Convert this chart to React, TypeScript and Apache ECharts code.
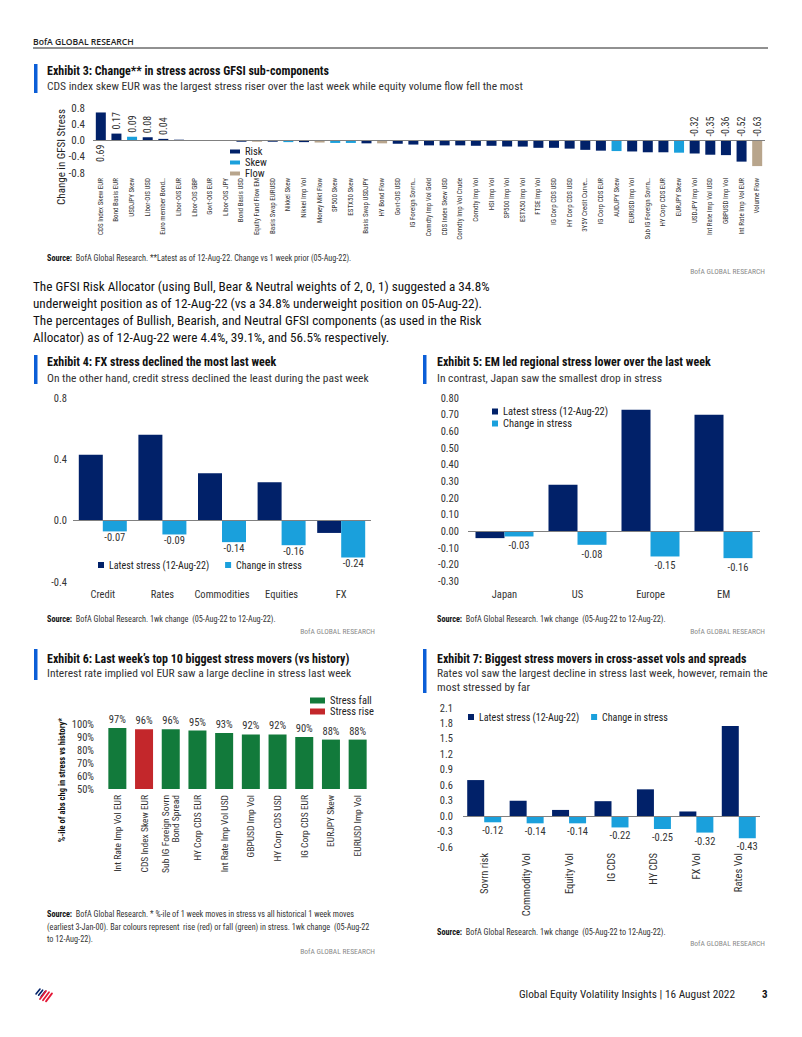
import React, { useEffect, useRef } from 'react';
import * as echarts from 'echarts';

const FONT = "'Liberation Sans Narrow', 'Arial Narrow', 'Roboto Condensed', Roboto, sans-serif";
const NAVY = '#012169';
const LIGHT = '#1aa0dc';
const TAN = '#b8a58c';
const GREEN = '#127a3b';
const RED = '#c3272b';
const ACCENT = '#0b5ed7';
const AXIS_TXT = '#333';

// ---------- Exhibit 3 ----------
const ex3Categories = [
  'CDS Index Skew EUR', 'Bond Basis EUR', 'USDJPY Skew', 'Libor-OIS USD', 'Euro member Bond…',
  'Libor-OIS EUR', 'Libor-OIS GBP', 'Govt-OIS EUR', 'Libor-OIS JPY', 'Bond Basis USD',
  'Equity Fund Flow EM', 'Basis Swap EURUSD', 'Nikkei Skew', 'Nikkei Imp Vol', 'Money Mkt Flow',
  'SP500 Skew', 'ESTX50 Skew', 'Basis Swap USDJPY', 'HY Bond Flow', 'Govt-OIS USD',
  'IG Foreign Sovrn…', 'Comdty Imp Vol Gold', 'CDS Index Skew USD', 'Comdty Imp Vol Crude', 'Comdty Imp Vol',
  'HSI Imp Vol', 'SP500 Imp Vol', 'ESTX50 Imp Vol', 'FTSE Imp Vol', 'IG Corp CDS USD',
  'HY Corp CDS USD', '3Y5Y Credit Curve…', 'IG Corp CDS EUR', 'AUDJPY Skew', 'EURUSD Imp Vol',
  'Sub IG Foreign Sovrn…', 'HY Corp CDS EUR', 'EURJPY Skew', 'USDJPY Imp Vol', 'Int Rate Imp Vol USD',
  'GBPUSD Imp Vol', 'Int Rate Imp Vol EUR', 'Volume Flow',
];
const ex3Values = [
  0.69, 0.17, 0.09, 0.08, 0.04,
  0.02, 0.01, 0.01, 0.01, -0.03,
  -0.03, -0.03, -0.04, -0.04, -0.05,
  -0.06, -0.06, -0.07, -0.07, -0.08,
  -0.10, -0.12, -0.12, -0.12, -0.13,
  -0.13, -0.15, -0.15, -0.18, -0.18,
  -0.20, -0.23, -0.25, -0.26, -0.27,
  -0.29, -0.29, -0.30, -0.32, -0.35,
  -0.36, -0.52, -0.63,
];
const ex3Groups = [
  'Risk', 'Risk', 'Skew', 'Risk', 'Risk',
  'Risk', 'Risk', 'Risk', 'Risk', 'Risk',
  'Flow', 'Risk', 'Skew', 'Risk', 'Flow',
  'Skew', 'Skew', 'Risk', 'Flow', 'Risk',
  'Risk', 'Risk', 'Risk', 'Risk', 'Risk',
  'Risk', 'Risk', 'Risk', 'Risk', 'Risk',
  'Risk', 'Risk', 'Risk', 'Skew', 'Risk',
  'Risk', 'Risk', 'Skew', 'Risk', 'Risk',
  'Risk', 'Risk', 'Flow',
];
const ex3GroupNames = ['Risk', 'Skew', 'Flow'];
const ex3LabelledEachEnd = 5;

// ---------- Exhibit 4 ----------
const ex4Categories = ['Credit', 'Rates', 'Commodities', 'Equities', 'FX'];
const ex4Latest = [0.43, 0.56, 0.31, 0.25, -0.08];
const ex4Change = [-0.07, -0.09, -0.14, -0.16, -0.24];

// ---------- Exhibit 5 ----------
const ex5Categories = ['Japan', 'US', 'Europe', 'EM'];
const ex5Latest = [-0.04, 0.28, 0.73, 0.70];
const ex5Change = [-0.03, -0.08, -0.15, -0.16];

// ---------- Exhibit 6 ----------
const ex6Categories = [
  'Int Rate Imp Vol EUR', 'CDS Index Skew EUR', 'Sub IG Foreign Sovrn\nBond Spread', 'HY Corp CDS EUR',
  'Int Rate Imp Vol USD', 'GBPUSD Imp Vol', 'HY Corp CDS USD', 'IG Corp CDS EUR', 'EURJPY Skew', 'EURUSD Imp Vol',
];
const ex6Values = [97, 96, 96, 95, 93, 92, 92, 90, 88, 88];
const ex6Direction = ['fall', 'rise', 'fall', 'fall', 'fall', 'fall', 'fall', 'fall', 'fall', 'fall'];

// ---------- Exhibit 7 ----------
const ex7Categories = ['Sovrn risk', 'Commodity Vol', 'Equity Vol', 'IG CDS', 'HY CDS', 'FX Vol', 'Rates Vol'];
const ex7Latest = [0.70, 0.30, 0.12, 0.29, 0.52, 0.09, 1.75];
const ex7Change = [-0.12, -0.14, -0.14, -0.22, -0.25, -0.32, -0.43];

const LATEST = 'Latest stress (12-Aug-22)';
const CHANGE = 'Change in stress';

const paragraph = [
  'The GFSI Risk Allocator (using Bull, Bear & Neutral weights of 2, 0, 1) suggested a 34.8%',
  'underweight position as of 12-Aug-22 (vs a 34.8% underweight position on 05-Aug-22).',
  'The percentages of Bullish, Bearish, and Neutral GFSI components (as used in the Risk',
  'Allocator) as of 12-Aug-22 were 4.4%, 39.1%, and 56.5% respectively.',
];

function txt(text: string, x: number, y: number, size: number, o: any = {}) {
  return {
    type: 'text', x, y, silent: true, rotation: o.rotation || 0, z: 100,
    style: {
      text, fontSize: size, fontFamily: o.family || FONT, fontWeight: o.weight || 'normal',
      fill: o.color || '#222', align: o.align || 'left', verticalAlign: 'middle', rich: o.rich,
    },
  };
}
function accent(x: number, y: number, h: number) {
  return { type: 'rect', silent: true, shape: { x, y, width: 3.5, height: h }, style: { fill: ACCENT } };
}
function src(rest: string, x: number, y: number) {
  return txt('{b|Source:}' + rest, x, y, 8.2, {
    color: '#333',
    rich: { b: { fontWeight: 'bold', fontSize: 8.2, fontFamily: FONT, fill: '#111' } },
  });
}
const bofa = (x: number, y: number) => txt('BofA GLOBAL RESEARCH', x, y, 7.5, { align: 'right', color: '#8a8a8a' });

const zeroLine = {
  silent: true, symbol: 'none', label: { show: false },
  lineStyle: { color: '#808080', width: 1, type: 'solid' },
  data: [{ yAxis: 0 }],
};

const fmt = (d: number) => (v: number) => Number(v).toFixed(d);

function catAxis(gi: number, data: string[], o: any = {}) {
  return {
    type: 'category', gridIndex: gi, data,
    axisLine: { show: false }, axisTick: { show: false },
    axisLabel: {
      interval: 0, rotate: o.rotate || 0, fontSize: o.size || 10.5, color: AXIS_TXT,
      fontFamily: FONT, margin: o.margin ?? 7,
    },
  };
}
function valAxis(gi: number, min: number, max: number, interval: number, formatter: any, o: any = {}) {
  return {
    type: 'value', gridIndex: gi, min, max, interval,
    splitLine: { show: false }, axisLine: { show: false }, axisTick: { show: false },
    axisLabel: { formatter, fontSize: o.size || 10.5, color: AXIS_TXT, fontFamily: FONT, margin: o.margin ?? 8 },
  };
}
function pair(ai: number, latest: number[], change: number[], width: number, dist: number) {
  return [
    {
      name: LATEST, type: 'bar', xAxisIndex: ai, yAxisIndex: ai, data: latest, barWidth: width, barGap: '0%',
      itemStyle: { color: NAVY }, markLine: zeroLine,
    },
    {
      name: CHANGE, type: 'bar', xAxisIndex: ai, yAxisIndex: ai, data: change, barWidth: width, barGap: '0%',
      itemStyle: { color: LIGHT },
      label: {
        show: true, position: 'bottom', distance: dist, fontSize: 10.5, color: AXIS_TXT, fontFamily: FONT,
        formatter: (p: any) => Number(p.value).toFixed(2),
      },
    },
  ];
}

function buildOption() {
  const n3 = ex3Values.length;
  const ex3Colors: Record<string, string> = { Risk: NAVY, Skew: LIGHT, Flow: TAN };
  const ex3Series = ex3GroupNames.map((g, gi) => ({
    name: g, type: 'bar', xAxisIndex: 0, yAxisIndex: 0, stack: 'ex3', barWidth: 10,
    itemStyle: { color: ex3Colors[g] },
    markLine: gi === 0 ? zeroLine : undefined,
    data: ex3Values.map((v, i) => {
      if (ex3Groups[i] !== g) return '-';
      const labelled = i < ex3LabelledEachEnd || i >= n3 - ex3LabelledEachEnd;
      if (!labelled) return v;
      const under = v > 0.5;
      return {
        value: v,
        label: {
          show: true, position: under ? 'bottom' : 'top', rotate: 90, align: under ? 'right' : 'left',
          verticalAlign: 'middle', distance: 4, fontSize: 10, color: AXIS_TXT, fontFamily: FONT,
          formatter: (p: any) => Number(p.value).toFixed(2),
        },
      };
    }),
  }));

  const ex6Series = [['fall', 'Stress fall', GREEN], ['rise', 'Stress rise', RED]].map(([dir, name, color]) => ({
    name, type: 'bar', xAxisIndex: 3, yAxisIndex: 3, stack: 'ex6', barWidth: 18,
    itemStyle: { color },
    data: ex6Values.map((v, i) => (ex6Direction[i] === dir ? v : '-')),
    label: {
      show: true, position: 'top', distance: 3, fontSize: 10.5, color: AXIS_TXT, fontFamily: FONT,
      formatter: '{c}%',
    },
  }));

  const legendText = { fontSize: 10.5, color: '#222', fontFamily: FONT };
  const legendTextSm = { fontSize: 10, color: '#222', fontFamily: FONT };

  const graphics: any[] = [
    txt('BofA GLOBAL RESEARCH', 33, 42, 8.6, { weight: 600, family: "'Open Sans', sans-serif", color: '#222' }),
    { type: 'line', silent: true, shape: { x1: 33, y1: 48, x2: 768, y2: 48 }, style: { stroke: '#222', lineWidth: 1 } },

    accent(34, 64, 29),
    txt('Exhibit 3: Change** in stress across GFSI sub-components', 47, 71, 12, { weight: 'bold', color: '#111' }),
    txt('CDS index skew EUR was the largest stress riser over the last week while equity volume flow fell the most', 47, 86, 11.5, { color: '#333' }),
    txt('Change in GFSI Stress', 61, 157, 11, { rotation: Math.PI / 2, align: 'center', color: '#222' }),
    src('  BofA Global Research. **Latest as of 12-Aug-22. Change vs 1 week prior (05-Aug-22).', 47, 258),
    bofa(765, 271),

    ...paragraph.map((line, i) => txt(line, 33, 286 + i * 17, 13.2, { color: '#111' })),

    accent(34, 355, 29),
    txt('Exhibit 4: FX stress declined the most last week', 47, 362, 12, { weight: 'bold', color: '#111' }),
    txt('On the other hand, credit stress declined the least during the past week', 47, 378, 11.5, { color: '#333' }),
    src('  BofA Global Research. 1wk change  (05-Aug-22 to 12-Aug-22).', 47, 619),
    bofa(375, 631),

    accent(423, 355, 29),
    txt('Exhibit 5: EM led regional stress lower over the last week', 437, 362, 12, { weight: 'bold', color: '#111' }),
    txt('In contrast, Japan saw the smallest drop in stress', 437, 378, 11.5, { color: '#333' }),
    src('  BofA Global Research. 1wk change  (05-Aug-22 to 12-Aug-22).', 437, 619),
    bofa(765, 631),

    accent(34, 649, 31),
    txt('Exhibit 6: Last week\u2019s top 10 biggest stress movers (vs history)', 47, 659, 12, { weight: 'bold', color: '#111' }),
    txt('Interest rate implied vol EUR saw a large decline in stress last week', 47, 673, 11.5, { color: '#333' }),
    txt('%-ile of abs chg in stress vs history*', 62, 780, 8.5, { rotation: Math.PI / 2, align: 'center', weight: 'bold', color: '#111' }),
    src('  BofA Global Research. * %-ile of 1 week moves in stress vs all historical 1 week moves', 47, 914),
    txt('(earliest 3-Jan-00). Bar colours represent  rise (red) or fall (green) in stress. 1wk change  (05-Aug-22', 47, 926.5, 8.2, { color: '#333' }),
    txt('to 12-Aug-22).', 47, 939, 8.2, { color: '#333' }),
    bofa(375, 951),

    accent(423, 649, 44),
    txt('Exhibit 7: Biggest stress movers in cross-asset vols and spreads', 437, 659, 12, { weight: 'bold', color: '#111' }),
    txt('Rates vol saw the largest decline in stress last week, however, remain the', 437, 673, 11.5, { color: '#333' }),
    txt('most stressed by far', 437, 686.5, 11.5, { color: '#333' }),
    src('  BofA Global Research. 1wk change  (05-Aug-22 to 12-Aug-22).', 437, 932),
    bofa(765, 943),

    // footer logo
    ...[0, 1, 2].map((k) => ({
      type: 'line', silent: true,
      shape: { x1: 36 + k * 2.6, y1: 994 + k * 1.2, x2: 40 + k * 2.6, y2: 989 + k * 1.2 },
      style: { stroke: NAVY, lineWidth: 1.6, lineCap: 'round' },
    })),
    ...[0, 1, 2].map((k) => ({
      type: 'line', silent: true,
      shape: { x1: 40 + k * 3, y1: 999 + k * 1.2, x2: 46 + k * 3, y2: 991 + k * 1.2 },
      style: { stroke: '#e31837', lineWidth: 1.8, lineCap: 'round' },
    })),
    txt('Global Equity Volatility Insights | 16 August 2022', 735, 994, 11.3, { align: 'right', color: '#222' }),
    txt('3', 762, 994, 11, { weight: 'bold', color: '#111' }),
  ];

  return {
    animation: false,
    backgroundColor: '#ffffff',
    textStyle: { fontFamily: FONT },
    grid: [
      { left: 93, top: 108, width: 672, height: 65 },
      { left: 73, top: 398, width: 298, height: 184 },
      { left: 468, top: 398, width: 292, height: 183.5 },
      { left: 104, top: 724, width: 267, height: 65 },
      { left: 463, top: 708, width: 297, height: 139 },
    ],
    xAxis: [
      catAxis(0, ex3Categories, { rotate: 90, size: 7, margin: 5 }),
      catAxis(1, ex4Categories, { margin: 7 }),
      catAxis(2, ex5Categories, { margin: 7 }),
      catAxis(3, ex6Categories, { rotate: 90, size: 9.5, margin: 6 }),
      catAxis(4, ex7Categories, { rotate: 90, size: 10.5, margin: 6 }),
    ],
    yAxis: [
      valAxis(0, -0.8, 0.8, 0.4, fmt(1), { size: 11, margin: 8 }),
      valAxis(1, -0.4, 0.8, 0.4, fmt(1), { margin: 6 }),
      valAxis(2, -0.3, 0.8, 0.1, fmt(2), { margin: 9 }),
      valAxis(3, 50, 100, 10, '{value}%', { margin: 10 }),
      valAxis(4, -0.6, 2.1, 0.3, fmt(1), { margin: 10 }),
    ],
    legend: [
      {
        data: ex3GroupNames, orient: 'vertical', left: 225, top: 141, itemWidth: 10, itemHeight: 4, itemGap: 0,
        icon: 'rect', textStyle: legendText, selectedMode: false,
      },
      {
        data: [LATEST, CHANGE], orient: 'horizontal', left: 93, top: 555, itemWidth: 6, itemHeight: 6, itemGap: 16,
        icon: 'rect', textStyle: legendTextSm, selectedMode: false,
      },
      {
        data: [LATEST, CHANGE], orient: 'vertical', left: 487, top: 401, itemWidth: 6, itemHeight: 6, itemGap: 1,
        icon: 'rect', textStyle: legendText, selectedMode: false,
      },
      {
        data: ['Stress fall', 'Stress rise'], orient: 'vertical', left: 305, top: 690, itemWidth: 15, itemHeight: 6, itemGap: 0,
        icon: 'rect', textStyle: legendText, selectedMode: false,
      },
      {
        data: [LATEST, CHANGE], orient: 'horizontal', left: 463, top: 707, itemWidth: 6, itemHeight: 6, itemGap: 12,
        icon: 'rect', textStyle: legendTextSm, selectedMode: false,
      },
    ],
    series: [
      ...ex3Series,
      ...pair(1, ex4Latest, ex4Change, 24, 1),
      ...pair(2, ex5Latest, ex5Change, 29, 4),
      ...ex6Series,
      ...pair(4, ex7Latest, ex7Change, 17, 3),
    ],
    graphic: graphics,
  };
}

export default function App() {
  const ref = useRef<HTMLDivElement>(null);
  useEffect(() => {
    if (!ref.current) return;
    const chart = echarts.init(ref.current, null, { renderer: 'svg' });
    chart.setOption(buildOption() as any);
    return () => chart.dispose();
  }, []);
  return (
    <div
      ref={ref}
      style={{ position: 'absolute', left: 0, top: 0, width: 802, height: 1037, background: '#fff' }}
    />
  );
}
